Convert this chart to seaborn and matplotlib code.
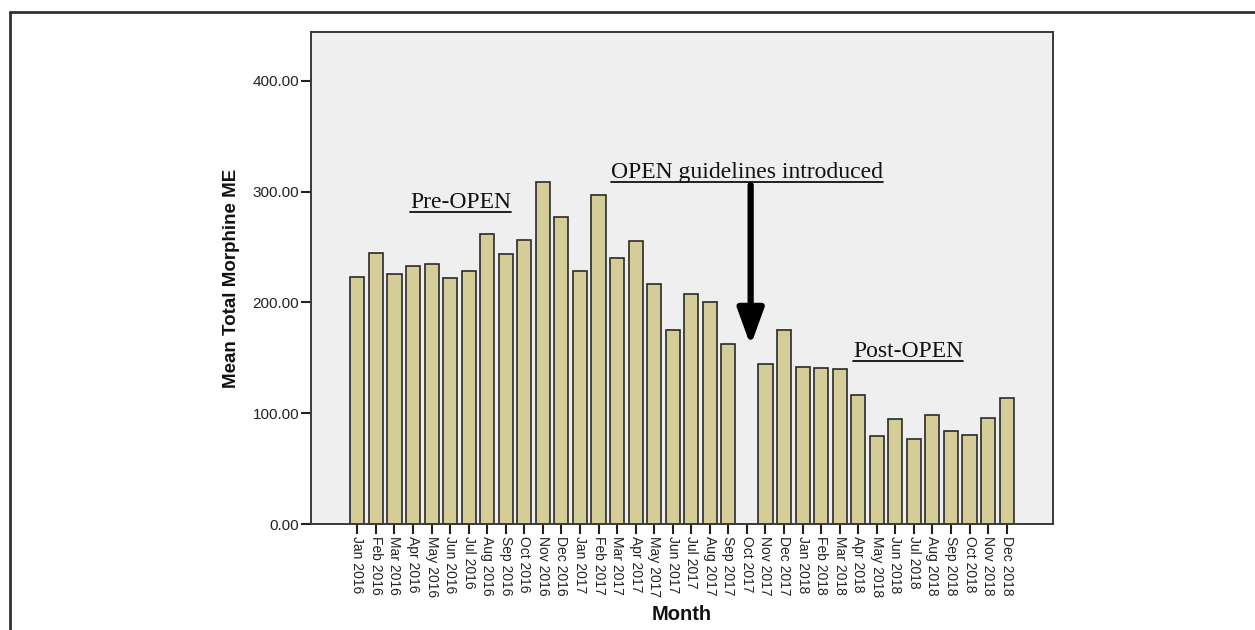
import matplotlib
matplotlib.use("Agg")
import matplotlib.pyplot as plt
from matplotlib.lines import Line2D
import numpy as np
import pandas as pd
import seaborn as sns

months = ["Jan 2016", "Feb 2016", "Mar 2016", "Apr 2016", "May 2016", "Jun 2016",
          "Jul 2016", "Aug 2016", "Sep 2016", "Oct 2016", "Nov 2016", "Dec 2016",
          "Jan 2017", "Feb 2017", "Mar 2017", "Apr 2017", "May 2017", "Jun 2017",
          "Jul 2017", "Aug 2017", "Sep 2017", "Oct 2017", "Nov 2017", "Dec 2017",
          "Jan 2018", "Feb 2018", "Mar 2018", "Apr 2018", "May 2018", "Jun 2018",
          "Jul 2018", "Aug 2018", "Sep 2018", "Oct 2018", "Nov 2018", "Dec 2018"]
values = [223, 245, 226, 233, 235, 222, 228, 262, 244, 256, 309, 277,
          228, 297, 240, 255, 217, 175, 208, 200, 162, np.nan, 144, 175,
          142, 141, 140, 116, 79, 95, 77, 98, 84, 80, 96, 114]
yticks = [0, 100, 200, 300, 400]

df = pd.DataFrame({"Month": months, "Value": values})

sns.set_theme(style="white")
plt.rcParams['font.family'] = ['Liberation Sans', 'DejaVu Sans']

fig = plt.figure(figsize=(12.55, 6.3), dpi=100)
ax = fig.add_axes([311/1255, 1-524/630, (1053-311)/1255, (524-32)/630])
ax.set_facecolor("#efefef")

sns.barplot(data=df, x="Month", y="Value", order=months, ax=ax,
            color="#d4cd97", saturation=1, width=0.76, errorbar=None,
            edgecolor="#2a2a2a", linewidth=1.2)

ax.set_xlim(-2.5, 37.5)
ax.set_ylim(0, 444)
ax.set_yticks(yticks)
ax.set_yticklabels([f"{v:.2f}" for v in yticks], fontsize=11, color="#222222")
ax.set_xticks(range(len(months)))
ax.set_xticklabels(months, rotation=-90, fontsize=10, color="#222222")
ax.tick_params(axis="both", direction="out", length=7, width=1.5, color="#222222",
               bottom=True, left=True, pad=1.5)
for s in ax.spines.values():
    s.set_visible(True)
    s.set_color("#3a3a3a")
    s.set_linewidth(1.4)

ax.set_ylabel("Mean Total Morphine ME", fontsize=13.5, fontweight="bold", labelpad=9, color="#111111")
ax.set_xlabel("Month", fontsize=14.5, fontweight="bold", labelpad=6, color="#111111")

serif = ['Liberation Serif', 'DejaVu Serif']
t1 = ax.text(5.56, 290, "Pre-OPEN", family=serif, fontsize=17, ha="center", va="center", color="#111111")
t2 = ax.text(21.0, 317, "OPEN guidelines introduced", family=serif, fontsize=17, ha="center", va="center", color="#111111")
t3 = ax.text(29.7, 156, "Post-OPEN", family=serif, fontsize=17, ha="center", va="center", color="#111111")

ax.annotate("", xy=(21.2, 161), xytext=(21.2, 306),
            arrowprops=dict(arrowstyle="-|>,head_width=0.4,head_length=1.1", lw=4.5,
                            color="black", mutation_scale=20, shrinkA=0, shrinkB=0))

fig.canvas.draw()
renderer = fig.canvas.get_renderer()
inv = fig.transFigure.inverted()
for t in (t1, t2, t3):
    bb = t.get_window_extent(renderer)
    (x0, y0) = inv.transform((bb.x0, bb.y0 + 1))
    (x1, _) = inv.transform((bb.x1, bb.y0 + 1))
    fig.add_artist(Line2D([x0, x1], [y0, y0], transform=fig.transFigure, color="#111111", lw=1.3))

# outer frame (top and left edges visible)
fy = 1 - 12/630
fx = 10/1255
fig.add_artist(Line2D([fx, 1.0], [fy, fy], transform=fig.transFigure, color="#333333", lw=2))
fig.add_artist(Line2D([fx, fx], [0.0, fy], transform=fig.transFigure, color="#333333", lw=2))

fig.savefig("out.png", dpi=100, facecolor="white")
